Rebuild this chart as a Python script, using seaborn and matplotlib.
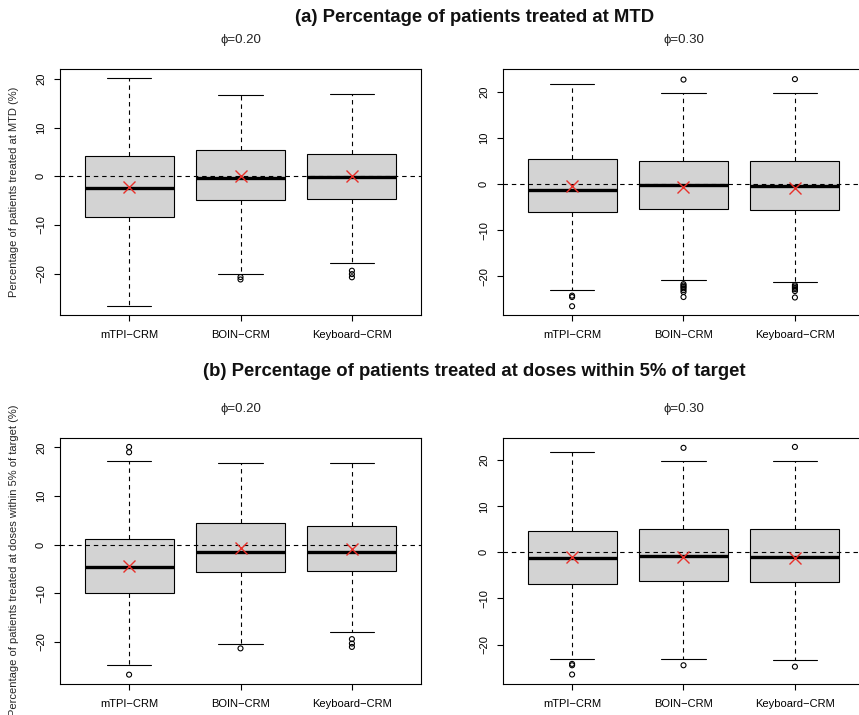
import numpy as np
import pandas as pd
import matplotlib
matplotlib.use("Agg")
import matplotlib.pyplot as plt
import seaborn as sns

# ---------------- data ----------------
methods = ["mTPI\u2212CRM", "BOIN\u2212CRM", "Keyboard\u2212CRM"]

# (a) % treated at MTD, phi = 0.20
a20_lo = [-26.6, -20.1, -17.9]
a20_q1 = [-8.4, -4.85, -4.7]
a20_med = [-2.4, -0.25, -0.15]
a20_q3 = [4.25, 5.35, 4.6]
a20_hi = [20.1, 16.7, 16.85]
a20_mean = [-2.25, 0.15, 0.0]
a20_out = [[], [-20.7, -21.2], [-19.4, -20.1, -20.75]]

# (a) phi = 0.30
a30_lo = [-23.0, -20.9, -21.2]
a30_q1 = [-6.0, -5.4, -5.6]
a30_med = [-1.3, -0.1, -0.3]
a30_q3 = [5.5, 5.05, 5.05]
a30_hi = [21.8, 19.85, 19.85]
a30_mean = [-0.45, -0.6, -0.8]
a30_out = [[-24.2, -24.5, -26.5],
           [22.7, -21.7, -22.0, -22.3, -22.6, -23.0, -23.4, -24.5],
           [22.8, -21.9, -22.2, -22.5, -22.8, -23.2, -24.6]]

# (b) % treated within 5% of target, phi = 0.20
b20_lo = [-24.8, -20.5, -17.9]
b20_q1 = [-9.9, -5.6, -5.35]
b20_med = [-4.5, -1.45, -1.45]
b20_q3 = [1.25, 4.4, 3.8]
b20_hi = [17.3, 16.7, 16.85]
b20_mean = [-4.4, -0.6, -0.9]
b20_out = [[20.1, 19.0, -26.7], [-21.3], [-19.4, -20.3, -21.0]]

# (b) phi = 0.30
b30_lo = [-23.1, -23.2, -23.4]
b30_q1 = [-6.8, -6.2, -6.5]
b30_med = [-1.2, -0.8, -1.0]
b30_q3 = [4.6, 5.05, 5.05]
b30_hi = [21.8, 19.85, 19.85]
b30_mean = [-1.0, -0.95, -1.15]
b30_out = [[-24.2, -24.5, -26.5], [22.7, -24.5], [22.9, -24.8]]

phi_labels = ["\u03d5=0.20", "\u03d5=0.30"]
title_a = "(a) Percentage of patients treated at MTD"
title_b = "(b) Percentage of patients treated at doses within 5% of target"
ylabel_a = "Percentage of patients treated at MTD (%)"
ylabel_b = "Percentage of patients treated at doses within 5% of target (%)"

# ---------------- style ----------------
sns.set_theme(style="ticks")
plt.rcParams["font.family"] = ["Liberation Sans", "DejaVu Sans"]
plt.rcParams["axes.edgecolor"] = "black"
plt.rcParams["axes.linewidth"] = 0.8
plt.rcParams["xtick.color"] = "black"
plt.rcParams["ytick.color"] = "black"

W, H = 859, 715
fig = plt.figure(figsize=(W / 100, H / 100), dpi=100)


def px_axes(left, top, width, height):
    return fig.add_axes([left / W, 1 - (top + height) / H, width / W, height / H])


def panel(ax, lo, q1, med, q3, hi, mean, out, ylim, sub, ylabel=None):
    rows = []
    for m, a, b, c, d, e in zip(methods, lo, q1, med, q3, hi):
        for v in (a, b, c, d, e):
            rows.append({"method": m, "value": v})
    df = pd.DataFrame(rows)
    sns.boxplot(data=df, x="method", y="value", order=methods, ax=ax,
                width=0.8, whis=(0, 100), color="#D3D3D3", saturation=1,
                linecolor="black", linewidth=0.8, fliersize=0,
                whiskerprops={"linestyle": (0, (4, 3.5)), "linewidth": 0.8},
                capprops={"linewidth": 0.8},
                medianprops={"linewidth": 2.4, "color": "black"},
                boxprops={"edgecolor": "black", "linewidth": 0.8})
    ax.axhline(0, color="black", lw=0.8, ls=(0, (4, 3.5)), zorder=4)
    orows = [{"method": m, "value": v} for m, vs in zip(methods, out) for v in vs]
    if orows:
        sns.stripplot(data=pd.DataFrame(orows), x="method", y="value", order=methods,
                      ax=ax, jitter=False, marker="o", size=3.6, color="black",
                      edgecolor="black", linewidth=0.8, facecolors="none", zorder=5)
    mdf = pd.DataFrame({"method": methods, "value": mean})
    sns.pointplot(data=mdf, x="method", y="value", order=methods, ax=ax,
                  linestyle="none", markers="x", color="#E8302A", errorbar=None,
                  markersize=8, markeredgewidth=1.0, zorder=6)
    ax.set_xlim(-0.62, 2.62)
    ax.set_ylim(*ylim)
    ax.set_yticks([-20, -10, 0, 10, 20])
    ax.set_yticklabels(["\u221220", "\u221210", "0", "10", "20"])
    ax.tick_params(axis="both", direction="out", length=4, width=0.8,
                   labelsize=8, colors="black")
    ax.tick_params(axis="x", pad=7)
    ax.tick_params(axis="y", pad=6)
    for lab in ax.get_yticklabels():
        lab.set_rotation(90)
        lab.set_va("center")
    ax.set_xlabel("")
    ax.set_ylabel("")
    for s in ax.spines.values():
        s.set_visible(True)
        s.set_color("black")
        s.set_linewidth(0.8)
    ax.set_facecolor("white")
    ax.text(0.5, 1 + 29 / 246, sub, transform=ax.transAxes, ha="center",
            va="center", fontsize=9.5, color="#222222",
            family=["DejaVu Sans", "Liberation Sans"] if False else ["Liberation Sans", "DejaVu Sans"])
    if ylabel:
        ax.set_ylabel(ylabel, fontsize=8)
        ax.yaxis.label.set_va("center")
        ax.yaxis.set_label_coords((14 - 60) / 361, 0.5)


ax1 = px_axes(60, 69, 361, 246)
ax2 = px_axes(503, 69, 361, 246)
ax3 = px_axes(60, 437.7, 361, 246)
ax4 = px_axes(503, 437.7, 361, 246)

panel(ax1, a20_lo, a20_q1, a20_med, a20_q3, a20_hi, a20_mean, a20_out,
      (-28.5, 22.05), phi_labels[0], ylabel_a)
panel(ax2, a30_lo, a30_q1, a30_med, a30_q3, a30_hi, a30_mean, a30_out,
      (-28.4, 25.0), phi_labels[1])
panel(ax3, b20_lo, b20_q1, b20_med, b20_q3, b20_hi, b20_mean, b20_out,
      (-28.56, 22.0), phi_labels[0], ylabel_b)
panel(ax4, b30_lo, b30_q1, b30_med, b30_q3, b30_hi, b30_mean, b30_out,
      (-28.5, 24.9), phi_labels[1])

fig.text(474.5 / W, 1 - 17 / H, title_a, ha="center", va="center",
         fontsize=13.3, weight="bold", color="#111111")
fig.text(474.5 / W, 1 - 371 / H, title_b, ha="center", va="center",
         fontsize=13.3, weight="bold", color="#111111")

fig.savefig("out.png", dpi=100, facecolor="white")
